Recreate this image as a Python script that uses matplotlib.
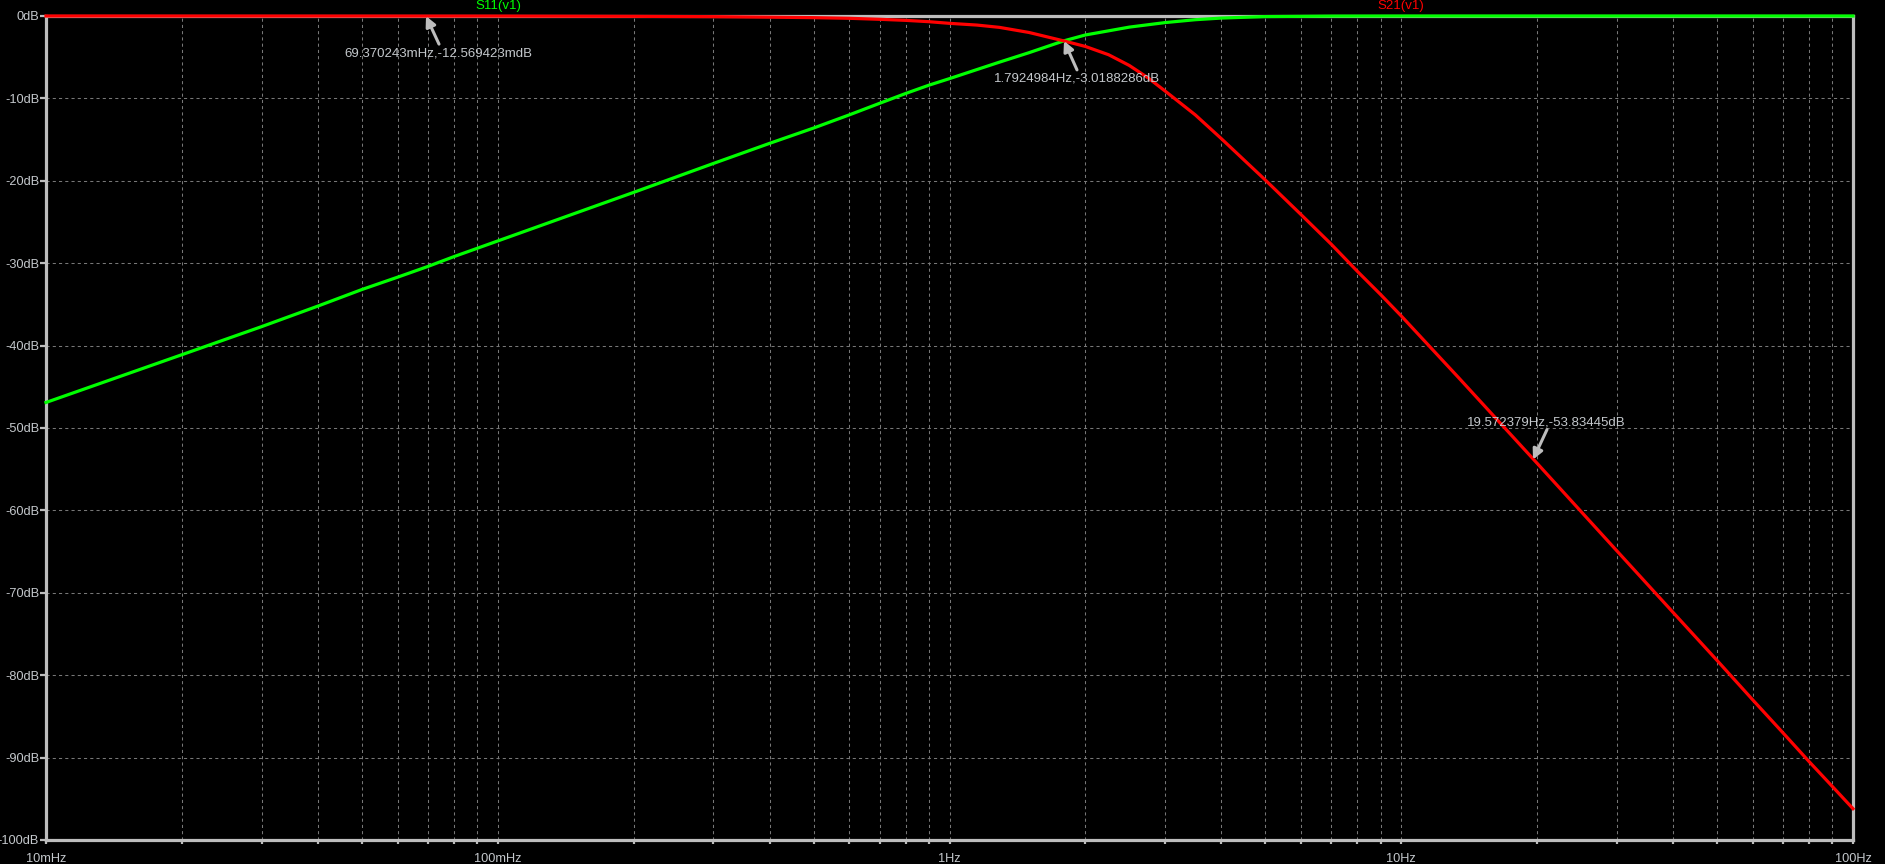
import matplotlib
matplotlib.use("Agg")
import matplotlib.pyplot as plt
from matplotlib.ticker import FixedLocator, FixedFormatter, NullFormatter

# S11(v1): frequency (Hz) and magnitude (dB)
s11_freq = [0.01, 0.02, 0.03, 0.04, 0.05, 0.06, 0.07, 0.08, 0.1, 0.2, 0.3, 0.4,
            0.5, 0.6, 0.7, 0.8, 0.9, 1.0, 1.15, 1.29, 1.5, 1.79, 2.0, 2.25, 2.5,
            3.0, 3.5, 4.0, 5.0, 7.0, 10.0, 20.0, 50.0, 100.0]
s11_db = [-46.9, -41.1, -37.7, -35.2, -33.2, -31.7, -30.4, -29.2, -27.3, -21.4,
          -17.9, -15.45, -13.6, -12.0, -10.6, -9.4, -8.4, -7.6, -6.5, -5.6,
          -4.45, -3.02, -2.3, -1.8, -1.35, -0.8, -0.45, -0.25, -0.07, -0.01,
          0.0, 0.0, 0.0, 0.0]

# S21(v1)
s21_freq = [0.01, 0.1, 0.2, 0.3, 0.4, 0.5, 0.6, 0.7, 0.8, 0.9, 1.0, 1.15, 1.29,
            1.5, 1.79, 2.0, 2.25, 2.5, 2.75, 3.0, 3.5, 4.0, 5.0, 6.0, 7.0, 8.0,
            9.0, 10.0, 13.4, 20.0, 30.0, 40.0, 50.0, 60.0, 70.0, 80.0, 90.0,
            100.0]
s21_db = [0.0, -0.01, -0.04, -0.08, -0.14, -0.2, -0.28, -0.4, -0.53, -0.69,
          -0.89, -1.1, -1.38, -2.0, -3.02, -3.7, -4.7, -6.0, -7.5, -9.1, -12.0,
          -14.9, -19.9, -24.1, -27.7, -31.0, -33.8, -36.4, -43.9, -54.3,
          -64.9, -72.4, -78.2, -83.0, -87.0, -90.5, -93.5, -96.2]

x_major = [0.01, 0.1, 1, 10, 100]
x_major_labels = ["10mHz", "100mHz", "1Hz", "10Hz", "100Hz"]
y_ticks = list(range(0, -101, -10))
y_tick_labels = [f"{v}dB" for v in y_ticks]

# cursor readouts: (freq, dB, label)
markers = [
    (0.069370243, -0.012569423, "69.370243mHz,-12.569423mdB"),
    (1.7924984, -3.0188286, "1.7924984Hz,-3.0188286dB"),
    (19.572379, -53.83445, "19.572379Hz,-53.83445dB"),
]
# tail / text offsets in pixels relative to each marker point
arrow_off = [(13, -28), (13, -29), (14, 30)]
text_off = [(12, -37), (13, -38), (13, 37)]

GREEN = "#00ff00"
RED = "#ff0000"
AXIS = "#bdbdbd"
TXT = "#c4c8cc"
GRID = "#777777"

plt.rcParams["font.family"] = ["Liberation Sans", "DejaVu Sans"]

W, H = 1885, 864
fig = plt.figure(figsize=(W / 100, H / 100), dpi=100, facecolor="black")
ax = fig.add_axes([46 / W, 1 - 840 / H, (1853 - 46) / W, (840 - 16) / H])
ax.set_facecolor("black")

ax.set_xscale("log")
ax.set_xlim(0.01, 100)
ax.set_ylim(-100, 0)

minor = [m * 10.0 ** e for e in range(-2, 2) for m in range(2, 10)]
ax.xaxis.set_major_locator(FixedLocator(x_major))
ax.xaxis.set_major_formatter(FixedFormatter(x_major_labels))
ax.xaxis.set_minor_locator(FixedLocator(minor))
ax.xaxis.set_minor_formatter(NullFormatter())
ax.yaxis.set_major_locator(FixedLocator(y_ticks))
ax.yaxis.set_major_formatter(FixedFormatter(y_tick_labels))

dash = (0, (3, 3))
ax.grid(True, which="both", axis="x", color=GRID, lw=0.75, ls=dash)
ax.grid(True, which="major", axis="y", color=GRID, lw=0.75, ls=dash)

for s in ax.spines.values():
    s.set_color(AXIS)
    s.set_linewidth(2.3)

ax.tick_params(axis="both", which="both", colors=AXIS, labelcolor=TXT,
               labelsize=9.2, direction="out", width=1.6)
ax.tick_params(axis="x", which="both", length=3, pad=6)
ax.tick_params(axis="y", which="major", length=4, pad=1)

ax.plot(s11_freq, s11_db, color=GREEN, lw=2.3, zorder=3, clip_on=False)
ax.plot(s21_freq, s21_db, color=RED, lw=2.3, zorder=3, clip_on=False)

for (f, db, lab), ao, to in zip(markers, arrow_off, text_off):
    ax.annotate("", xy=(f, db), xytext=ao, textcoords="offset pixels",
                arrowprops=dict(arrowstyle="-|>", color=AXIS, lw=2.2,
                                mutation_scale=15, shrinkA=0, shrinkB=0),
                zorder=5, annotation_clip=False)
    ax.annotate(lab, xy=(f, db), xytext=to, textcoords="offset pixels",
                ha="center", va="center", color=TXT, fontsize=9.5, zorder=6,
                annotation_clip=False)

# trace names above the plot
fig.text(498 / W, 1 - 6 / H, "S11(v1)", color=GREEN, fontsize=9.5,
         ha="center", va="center")
fig.text(1401 / W, 1 - 6 / H, "S21(v1)", color=RED, fontsize=9.5,
         ha="center", va="center")

fig.savefig("out.png", dpi=100, facecolor="black")
